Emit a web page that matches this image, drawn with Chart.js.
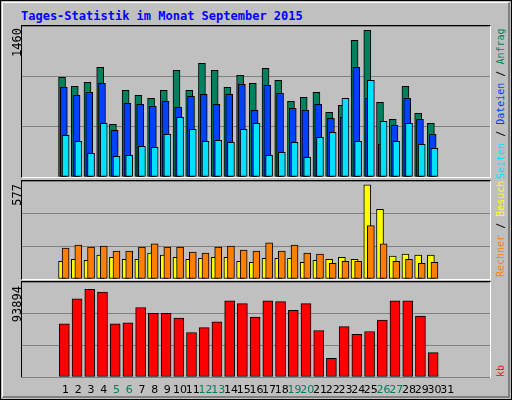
<!DOCTYPE html>
<html><head><meta charset="utf-8">
<script src="https://cdn.jsdelivr.net/npm/chart.js@4"></script>
<style>
body{margin:0;background:#fff}
#wrap{position:absolute;left:0;top:0;width:510px;height:398px;background:#c0c0c0;border:1px solid #000}
#inner{position:absolute;left:1px;top:1px;width:505px;height:393px;border-top:1px solid #fff;border-left:1px solid #fff;border-right:2px solid #808080;border-bottom:2px solid #808080}
.panel{position:absolute;left:20px;width:470px;border-top:1px solid #000;border-left:1px solid #000;border-right:1px solid #fff;border-bottom:1px solid #fff;box-sizing:border-box}
.panel canvas{position:absolute;left:0;top:0}
.title{position:absolute;left:20px;top:8px;font:bold 12px "DejaVu Sans Mono";color:#0000ff}
.vl{position:absolute;writing-mode:vertical-rl;transform:rotate(180deg);font:12px "DejaVu Sans Mono";white-space:nowrap}
.vr{position:absolute;writing-mode:vertical-rl;transform:rotate(180deg);font:10px "DejaVu Sans Mono";white-space:nowrap;left:494px;overflow:hidden}
</style></head><body>
<div id="wrap"><div id="inner"></div>
<div class="title">Tages-Statistik im Monat September 2015</div>
<div class="panel" style="top:24px;height:153px"><canvas id="c1"></canvas></div>
<div class="panel" style="top:179px;height:100px"><canvas id="c2"></canvas></div>
<div class="panel" style="top:280px;height:97px"></div>
<canvas id="c3" style="position:absolute;left:21px;top:281px"></canvas>
<div class="vl" style="left:9px;top:27px">1460</div>
<div class="vl" style="left:9px;top:183px">577</div>
<div class="vl" style="left:9px;top:285px">93894</div>
<div class="vr" style="top:28px;height:150px;text-align:left"><span style="color:#00e0ff">Seiten</span> / <span style="color:#0040ff">Dateien</span> / <span style="color:#00805c">Anfragen</span></div>
<div class="vr" style="top:180px;height:96px;text-align:left"><span style="color:#ff8000">Rechner</span> / <span style="color:#ffff00">Besuche</span> / <span style="color:#00e0ff">Seiten</span></div>
<div class="vr" style="top:350px;height:26px;text-align:left"><span style="color:#ff0000">kb</span></div>
</div>
<script>
const days=[...Array(31)].map((_,i)=>i+1);
const weekend=[5,6,12,13,19,20,26,27];
const hits=[990,901,940,1089,523,861,811,781,861,1060,861,1129,1060,891,1010,930,1079,960,752,791,841,642,712,1358,1457,742,573,901,632,533];
const files=[891,811,841,930,464,732,722,702,752,692,801,821,722,821,921,662,911,831,682,662,722,583,593,1089,781,325,513,781,573,424];
const pages=[414,354,235,533,205,215,305,295,424,593,474,354,364,344,474,533,215,245,344,195,394,444,781,354,960,553,354,533,325,285];
const visits=[108,121,115,146,133,121,121,158,146,133,121,127,133,133,108,102,127,127,127,102,115,121,133,121,577,427,140,152,146,146];
const sites=[190,208,196,202,171,171,196,215,196,196,165,158,196,202,177,171,221,171,208,158,152,96,108,108,327,215,108,121,96,102];
const kb=[54680,80374,90256,87291,54680,55669,71480,65551,65551,60610,45787,50728,56657,78397,75433,61598,78397,77409,68515,75433,47763,19105,51716,43810,46775,58633,78397,78397,62586,25034];

const XMIN=0.2, XMAX=31.74;
function pts(arr,off){return arr.map((v,i)=>({x:days[i]+off,y:v}));}
function ds(arr,off,color,w,order){return {data:pts(arr,off),backgroundColor:color,borderColor:'#000',borderWidth:1,barThickness:w,grouped:false,order:order,borderSkipped:false};}
function opts(max,bottomPad){
  return {responsive:false,animation:false,events:[],
    layout:{padding:{left:0,right:0,top:0,bottom:bottomPad||0}},
    plugins:{legend:{display:false},tooltip:{enabled:false}},
    scales:{
      x:{type:'linear',min:XMIN,max:XMAX,display:false},
      y:{min:0,max:max,display:true,border:{display:false},ticks:{display:false,stepSize:max/3},
        grid:{color:'#808080',lineWidth:1,drawTicks:false},afterFit(s){s.width=0;}}
    }};
}
function mk(id,w,h,datasets,max,pad,plugins){
  const c=document.getElementById(id);c.width=w;c.height=h;
  return new Chart(c,{type:'bar',data:{datasets},options:opts(max,pad),plugins:plugins||[]});
}
mk('c1',468,151,[ds(pages,0,'#00e0ff',7,1),ds(files,-0.14,'#0040ff',7,2),ds(hits,-0.28,'#00805c',7,3)],1500);
mk('c2',468,98,[ds(sites,0,'#ff8000',7,1),ds(visits,-0.28,'#ffff00',7,2)],600);
const xlab={id:'xlab',afterDraw(ch){
  const c=ch.ctx,sx=ch.scales.x,a=ch.chartArea;
  c.save();c.font='11px "DejaVu Sans"';c.textAlign='center';c.textBaseline='top';
  days.forEach(d=>{c.fillStyle=weekend.includes(d)?'#00805c':'#000';c.fillText(String(d),sx.getPixelForValue(d),a.bottom+8);});
  c.restore();}};
mk('c3',468,115,[ds(kb,-0.1,'#ff0000',10,1)],97666,20,[xlab]);
</script></body></html>
